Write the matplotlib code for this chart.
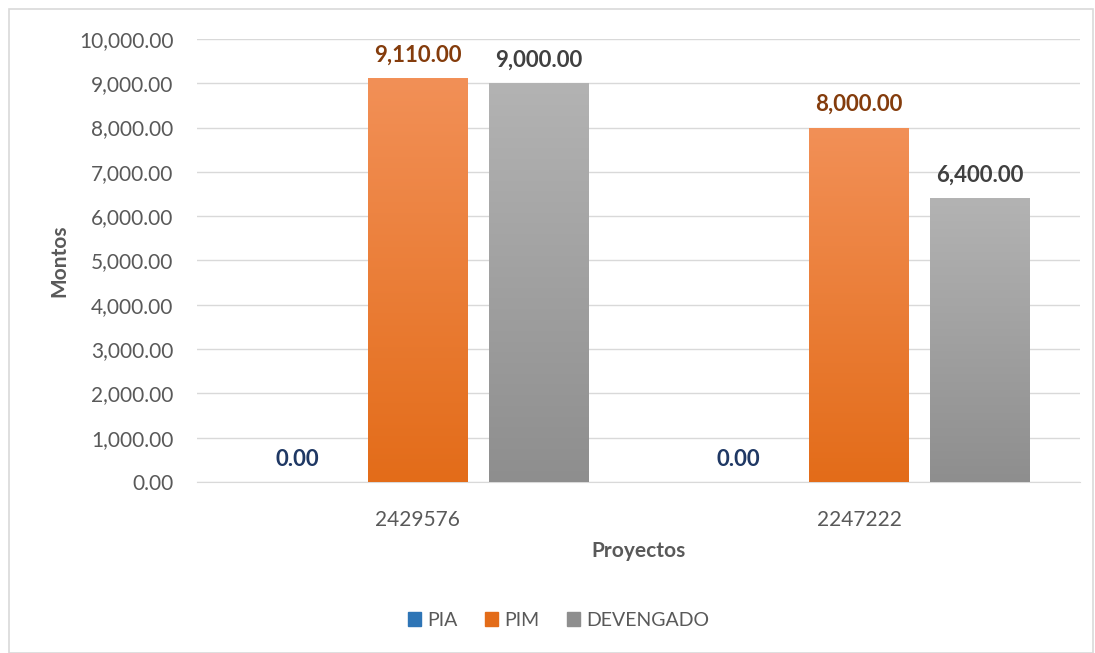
import numpy as np
import matplotlib.pyplot as plt
from matplotlib.patches import Rectangle
from matplotlib.colors import LinearSegmentedColormap

plt.rcParams['font.family'] = ['Lato', 'DejaVu Sans']

# Data
proyectos = ['2429576', '2247222']
series = ['PIA', 'PIM', 'DEVENGADO']
pia = [0.0, 0.0]
pim = [9110.0, 8000.0]
devengado = [9000.0, 6400.0]

# Colours (top, bottom) for gradient bars
grad = {'PIA': ('#6FA8DC', '#2E75B6'),
        'PIM': ('#F29057', '#E36C19'),
        'DEVENGADO': ('#B3B3B3', '#8E8E8E')}
label_col = {'PIA': '#1F3864', 'PIM': '#843C0C', 'DEVENGADO': '#404040'}

fig = plt.figure(figsize=(10.95, 6.53), dpi=100)
ax = fig.add_axes([0.18, 0.2619, 0.806, 0.6784])

x = np.arange(len(proyectos))
w = 0.2265
step = 0.274
vals = [pia, pim, devengado]

grad_img = np.linspace(1, 0, 256).reshape(-1, 1)
for i, (name, v) in enumerate(zip(series, vals)):
    pos = x + (i - 1) * step
    bars = ax.bar(pos, v, w, color=grad[name][1], label=name, zorder=2)
    cmap = LinearSegmentedColormap.from_list(name, [grad[name][1], grad[name][0]])
    for b, val in zip(bars, v):
        if val > 0:
            im = ax.imshow(grad_img, cmap=cmap, aspect='auto', zorder=3,
                           extent=[b.get_x(), b.get_x() + w, 0, val])
            im.set_clip_path(b)
        ax.text(b.get_x() + w / 2, val + 280, f'{val:,.2f}', ha='center', va='bottom',
                fontsize=16, fontweight='bold', color=label_col[name], zorder=4)

ax.set_xlim(-0.5, 1.5)
ax.set_ylim(0, 10000)
ax.set_yticks(np.arange(0, 10001, 1000))
ax.set_yticklabels([f'{t:,.2f}' for t in np.arange(0, 10001, 1000)])
ax.set_xticks(x)
ax.set_xticklabels(proyectos)
ax.tick_params(axis='both', length=0, labelsize=15, colors='#595959', pad=17)
ax.tick_params(axis='x', pad=20)
ax.grid(axis='y', color='#D9D9D9', linewidth=1, zorder=0)
ax.set_axisbelow(True)
for s in ['top', 'right', 'left']:
    ax.spines[s].set_visible(False)
ax.spines['bottom'].set_color('#D9D9D9')

ax.set_ylabel('Montos', fontsize=15, fontweight='bold', color='#595959', labelpad=7)
ax.set_xlabel('Proyectos', fontsize=15, fontweight='bold', color='#595959', labelpad=8)

handles = [Rectangle((0, 0), 1, 1, color=grad[n][1]) for n in series]
fig.legend(handles, series, loc='center', bbox_to_anchor=(0.51, 0.05), ncol=3,
           frameon=False, fontsize=14, handlelength=0.7, handleheight=0.7,
           handletextpad=0.3, columnspacing=1.4, labelcolor='#595959')

fig.patches.append(Rectangle((0.008, 0.0), 0.99, 0.986, transform=fig.transFigure,
                             fill=False, edgecolor='#D9D9D9', linewidth=1.2))

fig.savefig('out.png', dpi=100)
